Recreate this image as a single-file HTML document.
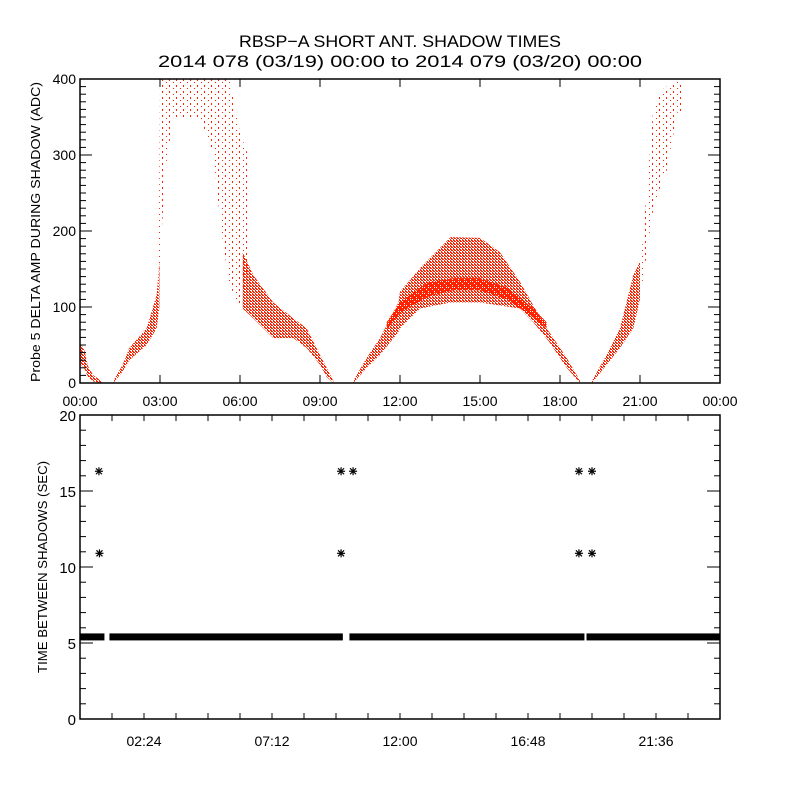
<!DOCTYPE html>
<html><head><meta charset="utf-8"><style>
html,body{margin:0;padding:0;background:#fff}
svg{display:block}
text{font-family:"Liberation Sans",sans-serif;fill:#000}
</style></head><body>
<svg id="chart" width="800" height="800" viewBox="0 0 800 800" xmlns="http://www.w3.org/2000/svg">
<defs>
<pattern id="dense" width="3" height="3" patternUnits="userSpaceOnUse">
<rect x="0" y="0" width="2" height="1" fill="#ff2200"/><rect x="1" y="1" width="2" height="1" fill="#ff2200"/><rect x="0" y="2" width="1" height="1" fill="#ff2200"/>
</pattern>
<pattern id="denser" width="2" height="2" patternUnits="userSpaceOnUse">
<rect x="0" y="0" width="2" height="1" fill="#ff2200"/><rect x="1" y="1" width="1" height="1" fill="#ff2200"/>
</pattern>
<pattern id="sparse" width="7" height="6" patternUnits="userSpaceOnUse">
<rect x="1" y="1" width="1" height="2" fill="#ff2200"/><rect x="5" y="4" width="1" height="1" fill="#ff2200"/>
</pattern>
<clipPath id="botClip"><rect x="80" y="415" width="640" height="304"/></clipPath>
</defs>
<text x="400" y="47" font-size="17" text-anchor="middle" textLength="322" lengthAdjust="spacingAndGlyphs">RBSP−A SHORT ANT. SHADOW TIMES</text>
<text x="400" y="67" font-size="17" text-anchor="middle" textLength="484" lengthAdjust="spacingAndGlyphs">2014 078 (03/19) 00:00 to 2014 079 (03/20) 00:00</text>
<g id="topPanel"></g>
<g id="botPanel"></g>
<text transform="translate(40,232) rotate(-90)" font-size="13" text-anchor="middle" textLength="300" lengthAdjust="spacingAndGlyphs">Probe 5 DELTA AMP DURING SHADOW (ADC)</text>
<text transform="translate(47,567) rotate(-90)" font-size="13" text-anchor="middle" textLength="212" lengthAdjust="spacingAndGlyphs">TIME BETWEEN SHADOWS (SEC)</text>
</svg>
<script>
// ---- top panel data (hours, ADC low/high envelopes) ----
const segA_t=[0,0.15,0.3,0.5,0.8];
const segA_lo=[25,20,8,2,0];
const segA_hi=[52,45,22,10,3];
const segB_t=[1.25,1.6,1.85,2.5,2.875,2.98];
const segB_lo=[0,15,30,50,72,100];
const segB_hi=[3,24,46,72,116,160];
const segC_t=[6.1,6.5,7.25,8.0,8.5,9.0,9.25,9.5];
const segC_lo=[98,85,59,59,46,24,8,0];
const segC_hi=[172,142,106,85,72,37,20,3];
const segD_t=[10.25,10.75,11.25,11.94,12,12.75,13.9,15,15.75,16.5,17,17.6,18.25,18.75];
const segD_lo=[0,20,37,67,72,98,106,106,102,98,80,54,20,0];
const segD_hi=[3,33,59,106,120,151,192,191,172,133,102,67,33,3];
const band_t=[11.5,12,13,14,15,16,17,17.5];
const band_lo=[70,92,113,122,122,110,86,72];
const band_hi=[80,106,132,138,138,126,98,80];
const segE_t=[19.2,19.75,20.25,20.75,21.0];
const segE_lo=[0,24,46,72,110];
const segE_hi=[3,37,72,142,160];
const sp1_t=[2.95,3.0,3.2,3.5,4.5,5.0,5.3,5.6,6.0,6.3];
const sp1_lo=[110,160,280,350,350,300,200,130,100,150];
const sp1_hi=[150,400,400,400,400,400,400,400,330,300];
const sp2_t=[21.0,21.1,21.5,21.9,22.0,22.4,22.6];
const sp2_lo=[130,133,230,273,280,356,356];
const sp2_hi=[160,185,362,388,390,396,396];
// ---- bottom panel data ----
const bandSegStart=[0,1.16,10.16,19.05];
const bandSegEnd=[0.86,9.8,18.86,24];
const bandValue=5.4;
const outT=[0.71,0.73,9.79,9.79,10.24,18.71,18.71,19.2,19.2];
const outV=[16.3,10.9,16.3,10.9,16.3,16.3,10.9,16.3,10.9];
const topXTicks=['00:00','03:00','06:00','09:00','12:00','15:00','18:00','21:00','00:00'];
const topYTicks=[0,100,200,300,400];
const botXTicks=['02:24','07:12','12:00','16:48','21:36'];
const botYTicks=[0,5,10,15,20];

const NS='http://www.w3.org/2000/svg';
function mk(tag,attrs,parent){const e=document.createElementNS(NS,tag);for(const k in attrs)e.setAttribute(k,attrs[k]);parent.appendChild(e);return e;}
const L=80,R=720;
const xS=h=>L+(R-L)*h/24;
const T1=79,B1=383; const y1=v=>B1-(B1-T1)*v/400;
const T2=415,B2=719; const y2=v=>B2-(B2-T2)*v/20;
const topG=document.getElementById('topPanel'), botG=document.getElementById('botPanel');

function region(t,lo,hi,fill,name){
  let pts=t.map((h,i)=>xS(h)+','+y1(hi[i]));
  for(let i=t.length-1;i>=0;i--)pts.push(xS(t[i])+','+y1(lo[i]));
  const p=mk('polygon',{points:pts.join(' '),fill:fill},topG);
  
  
}
region(sp1_t,sp1_lo,sp1_hi,'url(#sparse)','sparse-points-morning');
region(sp2_t,sp2_lo,sp2_hi,'url(#sparse)','sparse-points-evening');
region(segA_t,segA_lo,segA_hi,'url(#dense)','points-segment-a');
region(segB_t,segB_lo,segB_hi,'url(#dense)','points-segment-b');
region(segC_t,segC_lo,segC_hi,'url(#dense)','points-segment-c');
region(segD_t,segD_lo,segD_hi,'url(#dense)','points-segment-d');
region(band_t,band_lo,band_hi,'url(#denser)','points-dense-band');
region(segE_t,segE_lo,segE_hi,'url(#dense)','points-segment-e');

let f=mk('rect',{x:L,y:T1,width:R-L,height:B1-T1,fill:'none',stroke:'#000','stroke-width':1.5},topG);


topXTicks.forEach((s,i)=>{const x=xS(i*3);
  mk('line',{x1:x,x2:x,y1:B1,y2:B1-8,stroke:'#000'},topG);mk('line',{x1:x,x2:x,y1:T1,y2:T1+8,stroke:'#000'},topG);
  const t=mk('text',{x:x,y:406,'font-size':14,'text-anchor':'middle'},topG);t.textContent=s;
  
  });
for(let v=0;v<=400;v+=10){const y=y1(v),len=v%100==0?12:6;
  mk('line',{x1:L,x2:L+len,y1:y,y2:y,stroke:'#000'},topG);mk('line',{x1:R,x2:R-len,y1:y,y2:y,stroke:'#000'},topG);}
topYTicks.forEach(v=>{const t=mk('text',{x:76,y:y1(v)+5,'font-size':14,'text-anchor':'end'},topG);t.textContent=v;
  
  });

const dataG=mk('g',{'clip-path':'url(#botClip)'},botG);


function star(x,y,name){const g=mk('g',{stroke:'#000','stroke-width':1.2},dataG);
  
  
  const r=4;mk('line',{x1:x-r,x2:x+r,y1:y,y2:y},g);mk('line',{x1:x,x2:x,y1:y-r,y2:y+r},g);
  mk('line',{x1:x-3,x2:x+3,y1:y-3,y2:y+3},g);mk('line',{x1:x-3,x2:x+3,y1:y+3,y2:y-3},g);}
bandSegStart.forEach((s,i)=>{const x0=xS(s),x1=xS(bandSegEnd[i]),y=y2(bandValue);
  const r=mk('rect',{x:x0-1.5,y:y-3.5,width:x1-x0+3,height:7,fill:'#000'},dataG);
  
  });
outT.forEach((t,i)=>star(xS(t),y2(outV[i]),'interval-outlier'));

f=mk('rect',{x:L,y:T2,width:R-L,height:B2-T2,fill:'none',stroke:'#000','stroke-width':1.5},botG);


for(let h=1.2;h<24;h+=1.2){const x=xS(h);
  mk('line',{x1:x,x2:x,y1:B2,y2:B2-6,stroke:'#000'},botG);mk('line',{x1:x,x2:x,y1:T2,y2:T2+6,stroke:'#000'},botG);}
botXTicks.forEach((s,i)=>{const x=xS(2.4+i*4.8);
  const t=mk('text',{x:x,y:746,'font-size':14,'text-anchor':'middle'},botG);t.textContent=s;
  
  });
for(let v=0;v<=20;v+=1){const y=y2(v),len=v%5==0?13:6;
  mk('line',{x1:L,x2:L+len,y1:y,y2:y,stroke:'#000'},botG);mk('line',{x1:R,x2:R-len,y1:y,y2:y,stroke:'#000'},botG);}
botYTicks.forEach(v=>{const t=mk('text',{x:76,y:y2(v)+6,'font-size':15,'text-anchor':'end'},botG);t.textContent=v;
  
  });
</script>
</body></html>
